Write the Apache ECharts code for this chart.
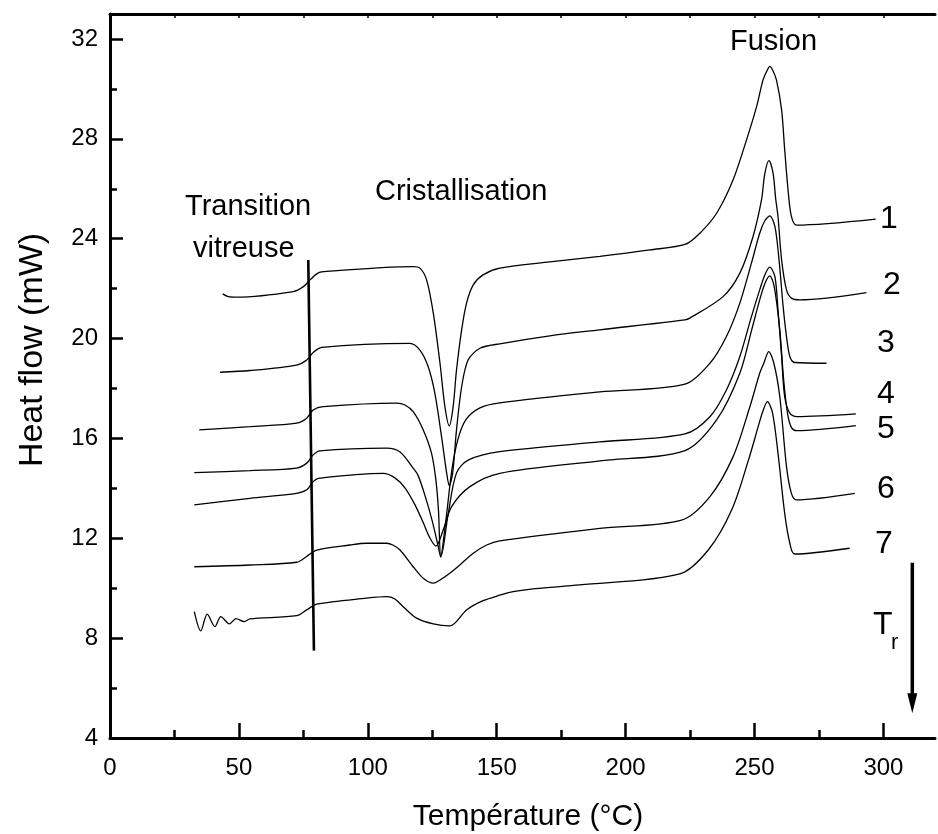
<!DOCTYPE html>
<html>
<head>
<meta charset="utf-8">
<script src="https://cdn.jsdelivr.net/npm/echarts@6/dist/echarts.min.js"></script>
<style>
  html, body { margin: 0; padding: 0; background: #ffffff; }
  #chart { width: 938px; height: 834px; }
</style>
</head>
<body>
<div id="chart"></div>
<script>
// DSC thermograms: temperature (°C), heat flow (mW)
const curve1 = [[43.7,21.79],[45.9,21.68],[49.1,21.66],[71.1,21.88],[75.0,22.08],[77.6,22.35],[80.2,22.59],[82.1,22.67],
  [117.6,22.88],[120.2,22.82],[122.8,22.35],[125.4,21.02],[128.0,19.01],[129.9,17.27],[131.6,16.50],[133.1,17.27],
  [134.4,18.74],[136.4,20.35],[138.3,21.42],[140.9,22.15],[144.7,22.55],[151.2,22.82],[170.6,23.07],[190.0,23.29],
  [209.4,23.55],[223.3,23.78],[228.8,24.22],[235.3,25.02],[241.7,26.36],[246.9,27.96],[250.8,29.29],[253.3,30.36],
  [255.0,30.76],[255.9,30.90],[257.0,30.76],[258.5,30.36],[260.5,29.16],[261.7,27.56],[263.0,25.96],[264.3,24.89],
  [266.3,24.54],[297.0,24.78]];
const curve2 = [[42.7,18.65],[54.3,18.72],[72.4,18.94],[76.3,19.14],[78.8,19.44],[82.1,19.65],[116.3,19.81],[120.2,19.54],
  [123.4,18.88],[126.0,17.81],[128.6,16.07],[130.6,14.60],[131.6,14.11],[132.9,14.60],[134.4,16.34],[136.4,18.07],
  [138.9,19.14],[143.5,19.61],[151.2,19.79],[170.6,20.11],[190.0,20.35],[223.0,20.75],[224.9,20.82],[237.8,21.68],
  [244.3,22.62],[249.4,24.08],[252.7,25.55],[254.0,26.62],[255.6,27.13],[257.2,26.62],[258.2,25.60],[259.1,24.89],
  [260.5,23.15],[262.4,21.95],[264.3,21.62],[267.6,21.55],[293.4,21.84]];
const curve3 = [[34.6,16.34],[54.3,16.47],[72.4,16.61],[76.3,16.81],[78.8,17.14],[82.7,17.27],[111.2,17.41],[114.4,17.34],
  [117.6,17.07],[121.5,16.34],[124.7,15.41],[126.4,14.34],[127.4,13.13],[128.3,11.29],[130.3,12.73],[132.6,14.74],
  [134.9,15.94],[138.0,16.74],[143.5,17.22],[151.2,17.42],[190.0,17.86],[223.0,18.17],[232.7,19.01],[239.1,20.08],
  [244.3,21.42],[248.8,23.02],[252.0,24.22],[254.0,24.72],[255.9,24.91],[257.9,24.49],[259.5,23.15],[261.1,21.28],
  [262.4,20.08],[263.7,19.28],[265.6,19.04],[277.9,19.01]];
const curve4 = [[32.7,14.63],[54.3,14.71],[72.4,14.81],[76.3,15.01],[78.8,15.34],[81.4,15.50],[107.3,15.61],[112.5,15.46],
  [117.5,14.82],[119.4,14.54],[122.1,13.74],[124.9,12.73],[127.2,11.73],[128.3,11.25],[131.1,12.93],[134.4,14.62],
  [139.1,15.14],[151.2,15.47],[190.0,15.86],[223.0,16.18],[232.7,16.87],[239.1,17.94],[244.3,19.28],[248.8,20.88],
  [252.0,21.95],[254.0,22.55],[255.9,22.86],[257.9,22.48],[259.1,21.15],[260.5,19.28],[261.7,17.67],[263.7,17.01],
  [266.3,16.87],[289.3,16.98]];
const curve5 = [[32.7,13.34],[54.3,13.60],[72.4,13.80],[76.3,13.94],[78.8,14.27],[80.8,14.40],[106.0,14.60],[110.5,14.42],
  [114.4,14.02],[118.3,13.34],[121.4,12.65],[124.1,12.01],[126.4,11.69],[129.5,12.41],[132.5,13.27],[139.6,14.07],
  [151.2,14.60],[190.0,15.10],[223.0,15.51],[235.3,16.74],[244.3,18.61],[248.9,20.35],[252.0,21.55],[254.0,22.20],
  [255.9,22.51],[257.6,22.10],[259.8,20.35],[261.3,18.34],[262.9,16.94],[264.4,16.42],[266.3,16.31],[289.3,16.51]];
const curve6 = [[32.7,10.86],[54.3,10.93],[72.4,11.04],[76.0,11.25],[80.2,11.53],[93.1,11.73],[99.5,11.80],[107.3,11.80],
  [109.7,11.73],[112.5,11.53],[117.6,10.86],[121.5,10.40],[125.4,10.20],[128.0,10.33],[131.8,10.60],[135.7,10.93],
  [140.9,11.40],[146.1,11.73],[151.2,11.90],[190.0,12.40],[221.7,12.73],[232.7,13.67],[241.7,15.27],[248.2,17.27],
  [252.0,18.61],[253.6,19.01],[255.5,19.48],[257.5,19.01],[259.8,17.67],[262.4,14.87],[264.3,13.80],[266.3,13.54],
  [288.9,13.80]];
const curve7 = [[32.7,9.06],[35.2,8.29],[37.7,8.96],[40.7,8.46],[43.0,8.86],[46.3,8.57],[48.9,8.78],[52.1,8.66],
  [54.3,8.77],[72.4,8.90],[76.3,9.13],[80.2,9.36],[99.5,9.60],[107.3,9.66],[110.5,9.57],[113.7,9.26],[118.9,8.80],
  [125.4,8.57],[131.8,8.49],[138.3,9.13],[144.7,9.50],[151.2,9.72],[156.4,9.86],[165.0,9.98],[182.2,10.13],
  [221.0,10.57],[232.2,11.55],[241.2,13.15],[247.7,15.15],[251.5,16.50],[253.1,17.05],[255.0,17.47],[257.0,17.01],
  [259.1,15.41],[261.7,13.00],[263.7,11.80],[265.6,11.37],[286.9,11.60]];

const curves = [curve1, curve2, curve3, curve4, curve5, curve6, curve7];
const curveNames = ['1', '2', '3', '4', '5', '6', '7'];

// glass-transition marker and the T_r direction arrow (data coordinates)
const tgMarker = [[76.9, 23.15], [79.1, 7.5]];
const trArrow = [[311.2, 11.02], [311.2, 5.6]];
const trArrowTip = [311.2, 5.39];

// axis ticks
const xMajorTicks = [0, 50, 100, 150, 200, 250, 300];
const xMinorTicks = [25, 75, 125, 175, 225, 275];
const xTopTicks = [25, 50, 75, 100, 125, 150, 175, 200, 225, 250, 275, 300];
const yMajorTicks = [4, 8, 12, 16, 20, 24, 28, 32];
const yMinorTicks = [6, 10, 14, 18, 22, 26, 30];

const FONT = '"Liberation Sans", Arial, Helvetica, sans-serif';
const chart = echarts.init(document.getElementById('chart'), null, { renderer: 'canvas' });

const hiddenLabel = { show: false };
const series = curves.map((c, i) => ({
  name: curveNames[i],
  type: 'line',
  data: c,
  xAxisIndex: 0,
  yAxisIndex: 0,
  showSymbol: false,
  symbol: 'none',
  smooth: 0.3,
  silent: true,
  lineStyle: { color: '#000', width: 1.3 }
}));

series.push({
  type: 'line',
  data: tgMarker,
  showSymbol: false,
  symbol: 'none',
  silent: true,
  lineStyle: { color: '#000', width: 2.6 }
});

series.push({
  type: 'line',
  data: trArrow,
  showSymbol: false,
  symbol: 'none',
  silent: true,
  lineStyle: { color: '#000', width: 3.5 },
  markPoint: {
    silent: true,
    animation: false,
    symbol: 'triangle',
    symbolSize: [10, 20],
    symbolRotate: 180,
    itemStyle: { color: '#000' },
    label: { show: false },
    data: [{ coord: trArrowTip }]
  }
});

const texts = [
  { text: 'Transition', x: 185, y: 207, size: 29, align: 'left' },
  { text: 'vitreuse', x: 193, y: 249, size: 29, align: 'left' },
  { text: 'Cristallisation', x: 375, y: 192, size: 29, align: 'left' },
  { text: 'Fusion', x: 730, y: 42, size: 29, align: 'left' },
  { text: '1', x: 889, y: 219, size: 32, align: 'center' },
  { text: '2', x: 892, y: 285, size: 32, align: 'center' },
  { text: '3', x: 886, y: 343, size: 32, align: 'center' },
  { text: '4', x: 886, y: 394, size: 32, align: 'center' },
  { text: '5', x: 886, y: 429, size: 32, align: 'center' },
  { text: '6', x: 886, y: 489, size: 32, align: 'center' },
  { text: '7', x: 884, y: 544, size: 32, align: 'center' },
  { text: 'T', x: 873, y: 625, size: 32, align: 'left' },
  { text: 'r', x: 891, y: 643, size: 22, align: 'left' },
  { text: 'Température (°C)', x: 528, y: 817, size: 30, align: 'center' }
];

const graphic = texts.map(t => ({
  type: 'text',
  x: t.x,
  y: t.y,
  silent: true,
  style: {
    text: t.text,
    font: t.size + 'px ' + FONT,
    fill: '#000',
    align: t.align,
    verticalAlign: 'middle'
  }
}));
graphic.push({
  type: 'text',
  x: 33,
  y: 350,
  rotation: Math.PI / 2,
  silent: true,
  style: {
    text: 'Heat flow (mW)',
    font: '34px ' + FONT,
    fill: '#000',
    align: 'center',
    verticalAlign: 'middle'
  }
});

const axisBase = { type: 'value', min: 0, max: 320, splitLine: { show: false } };
const yBase = { type: 'value', min: 4, max: 33, splitLine: { show: false } };

chart.setOption({
  animation: false,
  backgroundColor: '#ffffff',
  grid: { left: 110, top: 14, right: 3, bottom: 96, containLabel: false },
  xAxis: [
    Object.assign({}, axisBase, {
      position: 'bottom',
      axisLine: { show: true, onZero: false, lineStyle: { color: '#000', width: 3 } },
      axisTick: { show: true, inside: true, length: 15, customValues: xMajorTicks, lineStyle: { color: '#000', width: 2.5 } },
      axisLabel: { show: true, customValues: xMajorTicks, margin: 18, color: '#000', fontSize: 24, fontFamily: FONT }
    }),
    Object.assign({}, axisBase, {
      position: 'bottom',
      axisLine: { show: false, onZero: false },
      axisTick: { show: true, inside: true, length: 8, customValues: xMinorTicks, lineStyle: { color: '#000', width: 2.5 } },
      axisLabel: hiddenLabel
    }),
    Object.assign({}, axisBase, {
      position: 'top',
      axisLine: { show: true, onZero: false, lineStyle: { color: '#000', width: 3 } },
      axisTick: { show: true, inside: true, length: 4, customValues: xTopTicks, lineStyle: { color: '#000', width: 1.5 } },
      axisLabel: hiddenLabel
    })
  ],
  yAxis: [
    Object.assign({}, yBase, {
      position: 'left',
      axisLine: { show: true, onZero: false, lineStyle: { color: '#000', width: 3 } },
      axisTick: { show: true, inside: true, length: 13, customValues: yMajorTicks, lineStyle: { color: '#000', width: 2.5 } },
      axisLabel: { show: true, customValues: yMajorTicks, margin: 12, color: '#000', fontSize: 24, fontFamily: FONT }
    }),
    Object.assign({}, yBase, {
      position: 'left',
      axisLine: { show: false, onZero: false },
      axisTick: { show: true, inside: true, length: 7, customValues: yMinorTicks, lineStyle: { color: '#000', width: 2.5 } },
      axisLabel: hiddenLabel
    })
  ],
  series: series,
  graphic: graphic
});
</script>
</body>
</html>
